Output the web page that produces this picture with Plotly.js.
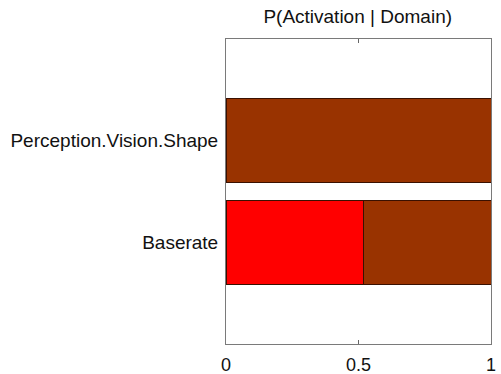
<!DOCTYPE html>
<html>
<head>
<meta charset="utf-8">
<script src="https://cdn.plot.ly/plotly-3.0.1.min.js"></script>
<style>html,body{margin:0;padding:0;background:#fff;}#chart{width:501px;height:374px;}</style>
</head>
<body>
<div id="chart"></div>
<script>
var categories = ["Baserate", "Perception.Vision.Shape"];
var activeValues = [0.517, 0];
var restValues = [0.483, 1];
var xTickValues = [0, 0.5, 1];
var xTickLabels = ["0", "0.5", "1"];

var traces = [
  {type: "bar", orientation: "h", y: categories, x: activeValues,
   marker: {color: "#ff0000", line: {color: "#3a1000", width: 1}}, hoverinfo: "x+y"},
  {type: "bar", orientation: "h", y: categories, x: restValues,
   marker: {color: "#993300", line: {color: "#3a1000", width: 1}}, hoverinfo: "x+y"}
];

var layout = {
  width: 501, height: 374,
  margin: {l: 226, r: 10, t: 39, b: 30},
  barmode: "stack",
  bargap: 0.18,
  showlegend: false,
  paper_bgcolor: "#fff", plot_bgcolor: "#fff",
  font: {family: "Liberation Sans, Arial, sans-serif", color: "#111", size: 19},
  title: {text: "P(Activation | Domain)", x: 0.714, xanchor: "center", y: 0.955, yanchor: "middle",
          font: {size: 19, color: "#111"}},
  xaxis: {range: [0, 1], tickvals: xTickValues, ticktext: xTickLabels,
          ticks: "inside", ticklen: 4, tickcolor: "#666", showline: true, linecolor: "#7a7a7a",
          linewidth: 1, mirror: "ticks", showgrid: false, zeroline: false,
          ticklabelstandoff: 4, tickfont: {size: 18, color: "#111"}},
  yaxis: {type: "category", range: [-1, 2], showline: true, linecolor: "#7a7a7a",
          linewidth: 1, mirror: true, ticks: "", showgrid: false, zeroline: false,
          ticklabelstandoff: 3, tickfont: {size: 19, color: "#111"}}
};

Plotly.newPlot("chart", traces, layout, {displayModeBar: false, staticPlot: true});
</script>
</body>
</html>
